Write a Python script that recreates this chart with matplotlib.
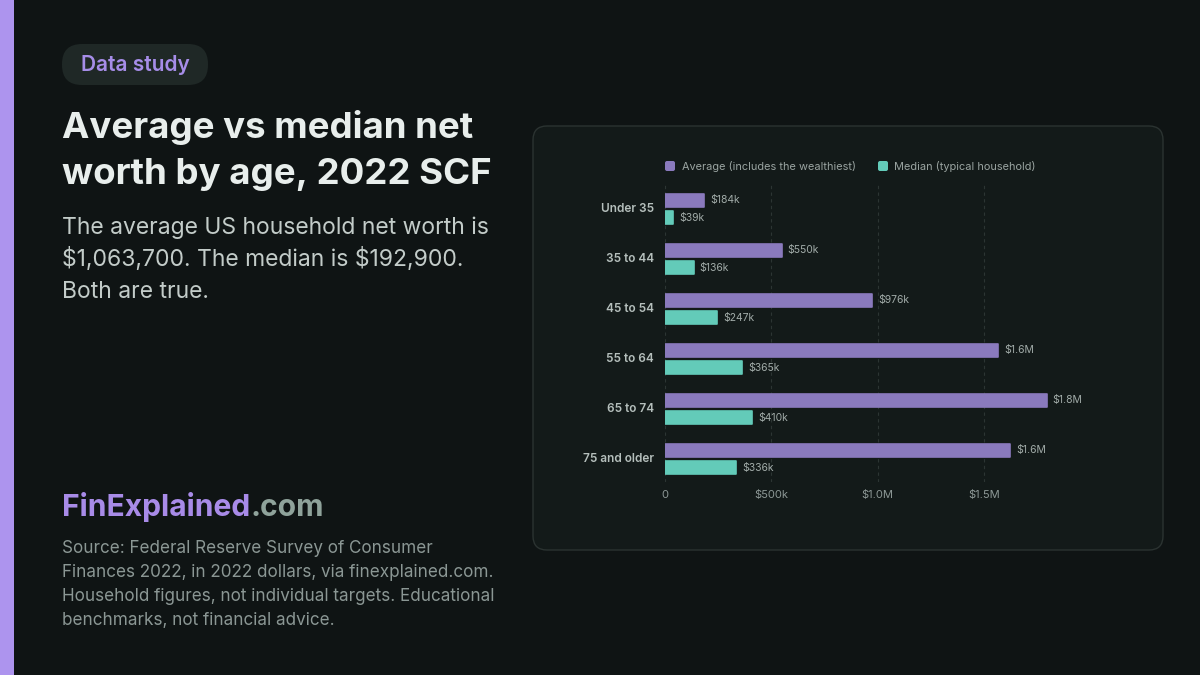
import numpy as np
import matplotlib
matplotlib.use("Agg")
import matplotlib.pyplot as plt
from matplotlib.patches import FancyBboxPatch, Rectangle

plt.rcParams['font.family'] = ['Inter', 'DejaVu Sans']

# data (2022 SCF, thousands of dollars)
ages = ["Under 35", "35 to 44", "45 to 54", "55 to 64", "65 to 74", "75 and older"]
average_k = [183.5, 549.6, 975.8, 1566.9, 1794.6, 1624.1]
median_k = [39.0, 135.6, 246.7, 364.5, 409.9, 335.6]
avg_labels = ["$184k", "$550k", "$976k", "$1.6M", "$1.8M", "$1.6M"]
med_labels = ["$39k", "$136k", "$247k", "$365k", "$410k", "$336k"]
tick_vals = [0, 500, 1000, 1500]
tick_labels = ["0", "$500k", "$1.0M", "$1.5M"]

BG = "#0f1414"
CARD = "#131a19"
CARD_EDGE = "#2b3331"
PURPLE = "#8a7abd"
TEAL = "#63cbb9"
ACCENT = "#ad94ee"

fig = plt.figure(figsize=(12, 6.75), dpi=100, facecolor=BG)

# background layer in pixel coords (y down)
bg = fig.add_axes([0, 0, 1, 1], zorder=0)
bg.set_xlim(0, 1200)
bg.set_ylim(675, 0)
bg.axis("off")
bg.add_patch(Rectangle((0, 0), 14, 675, color=ACCENT, lw=0))
bg.add_patch(FancyBboxPatch((62, 44), 146, 41, boxstyle="round,pad=0,rounding_size=20",
                            fc="#1f2826", ec="none"))
bg.text(135, 65, "Data study", color="#a68de8", fontsize=15, fontweight="semibold",
        ha="center", va="center")
bg.text(62, 138, "Average vs median net", color="#e8eeec", fontsize=26.4,
        fontweight="bold", va="baseline")
bg.text(62, 184, "worth by age, 2022 SCF", color="#e8eeec", fontsize=26.4,
        fontweight="bold", va="baseline")
for i, line in enumerate(["The average US household net worth is",
                          "$1,063,700. The median is $192,900.",
                          "Both are true."]):
    bg.text(62, 234 + 32 * i, line, color="#c3ccc9", fontsize=16.5, va="baseline",
            parse_math=False)

brand = bg.text(62, 516, "FinExplained", color="#a88be8", fontsize=21.6,
                fontweight="bold", va="baseline")
fig.canvas.draw()
bb = brand.get_window_extent()
bg.text(62 + bb.width, 516, ".com", color="#8fa39b", fontsize=21.6,
        fontweight="bold", va="baseline")
for i, line in enumerate(["Source: Federal Reserve Survey of Consumer",
                          "Finances 2022, in 2022 dollars, via finexplained.com.",
                          "Household figures, not individual targets. Educational",
                          "benchmarks, not financial advice."]):
    bg.text(62, 553 + 24 * i, line, color="#8b9794", fontsize=12.3, va="baseline")

# card
bg.add_patch(FancyBboxPatch((533, 126), 630, 424, boxstyle="round,pad=0,rounding_size=14",
                            fc=CARD, ec=CARD_EDGE, lw=1))

# legend
bg.add_patch(FancyBboxPatch((665, 161), 10, 10, boxstyle="round,pad=0,rounding_size=2",
                            fc=PURPLE, ec="none"))
bg.text(682, 166, "Average (includes the wealthiest)", color="#9aa4a1", fontsize=7.9,
        va="center")
bg.add_patch(FancyBboxPatch((878, 161), 10, 10, boxstyle="round,pad=0,rounding_size=2",
                            fc=TEAL, ec="none"))
bg.text(894, 166, "Median (typical household)", color="#9aa4a1", fontsize=7.9,
        va="center")

# chart
ax = fig.add_axes([665 / 1200, 1 - 482 / 675, 445 / 1200, 300 / 675], zorder=1)
ax.patch.set_alpha(0)
y = np.arange(len(ages))
off = 0.17
h = 0.25
ax.barh(y - off, average_k, height=h, color=PURPLE, edgecolor=PURPLE, lw=1.2,
        joinstyle="round", zorder=3)
ax.barh(y + off, median_k, height=h, color=TEAL, edgecolor=TEAL, lw=1.2,
        joinstyle="round", zorder=3)
for i in range(len(ages)):
    ax.text(average_k[i] + 28, y[i] - off, avg_labels[i], color="#a2aca9",
            fontsize=7.5, va="center")
    ax.text(median_k[i] + 28, y[i] + off, med_labels[i], color="#a2aca9",
            fontsize=7.5, va="center")

ax.set_xlim(0, 445 / 106.3 * 500)
ax.set_ylim(len(ages) - 1 + 0.46, -0.54)
ax.set_xticks(tick_vals)
ax.set_xticklabels(tick_labels)
ax.set_yticks(y - 0.04)
ax.set_yticklabels(ages)
ax.tick_params(axis="x", length=0, pad=6, colors="#8d9896", labelsize=8)
ax.tick_params(axis="y", length=0, pad=8, colors="#b5bfbc", labelsize=8.5)
for lab in ax.get_yticklabels():
    lab.set_fontweight("semibold")
ax.grid(axis="x", color="#2c3533", ls=(0, (3, 3)), lw=0.8, zorder=0)
for s in ax.spines.values():
    s.set_visible(False)

fig.savefig("out.png", dpi=100, facecolor=BG)
